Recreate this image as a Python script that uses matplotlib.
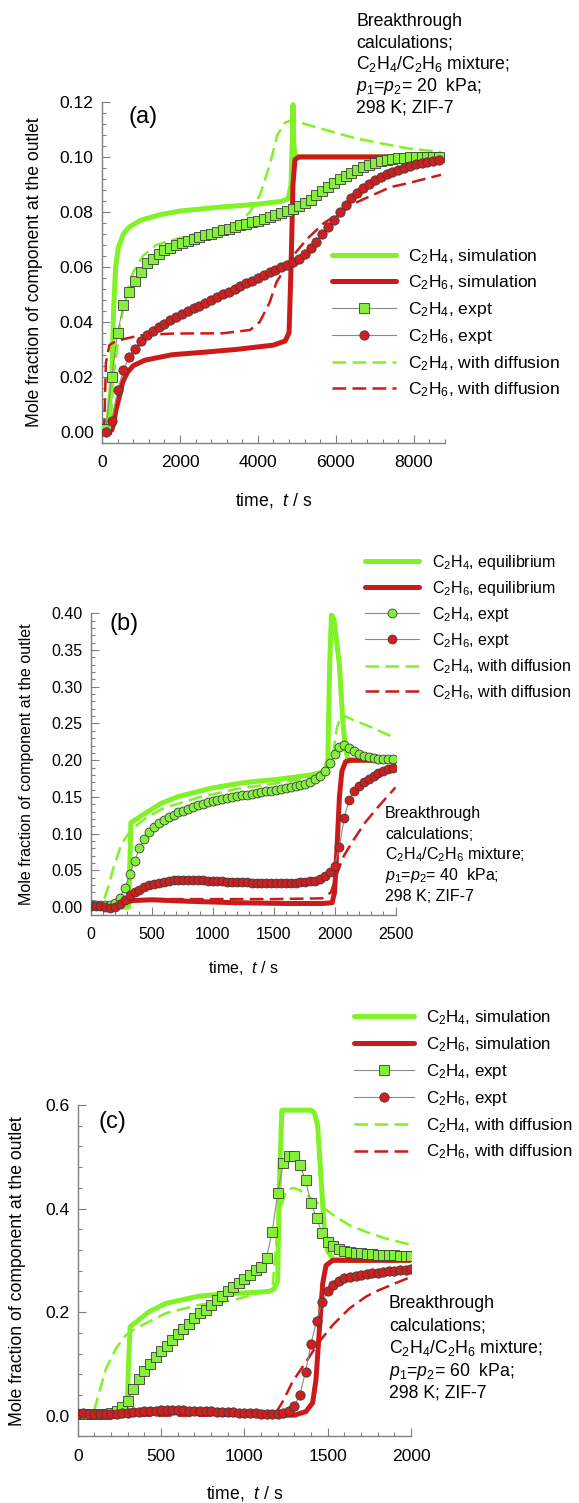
import matplotlib
matplotlib.use("Agg")
import matplotlib.pyplot as plt
from matplotlib.ticker import MultipleLocator, FormatStrFormatter

plt.rcParams["font.family"] = ["Liberation Sans", "DejaVu Sans"]
plt.rcParams["mathtext.fontset"] = "custom"
plt.rcParams["mathtext.rm"] = "Liberation Sans"
plt.rcParams["mathtext.it"] = "Liberation Sans:italic"
plt.rcParams["mathtext.bf"] = "Liberation Sans:bold"

W, H = 579, 1503
GREEN = "#80f226"
RED = "#cc1a1a"
SQ_FILL = "#84f03c"
CI_FILL = "#d21e1e"
EDGE = "#3c3c3c"
AXIS_GREY = "#808080"

C2H4 = r"C$_2$H$_4$"
C2H6 = r"C$_2$H$_6$"

# ---- (a) 20 kPa ----------------------------------------------------------
a_sim_c2h4_t = [0, 150, 250, 300, 350, 420, 550, 700, 1000, 1500, 2000, 3000, 4000, 4600, 4780,
                4850, 4880, 4900, 4920, 4950, 5000, 8700]
a_sim_c2h4_y = [0.0, 0.002, 0.020, 0.045, 0.060, 0.067, 0.072, 0.0745, 0.0770, 0.0790, 0.0803, 0.0817,
                0.0828, 0.0838, 0.0848, 0.090, 0.105, 0.119, 0.105, 0.101, 0.100, 0.100]
a_sim_c2h6_t = [0, 250, 300, 360, 450, 530, 650, 800, 1100, 1800, 2700, 3500, 4400, 4700, 4800,
                4850, 4900, 4950, 5050, 8700]
a_sim_c2h6_y = [0.0, 0.0005, 0.003, 0.008, 0.013, 0.018, 0.0215, 0.024, 0.026, 0.028, 0.029, 0.030,
                0.0315, 0.033, 0.036, 0.060, 0.090, 0.099, 0.100, 0.100]
a_dif_c2h4_t = [0, 150, 230, 300, 450, 620, 800, 1050, 1400, 2250, 3100, 3550, 3800, 4050, 4300,
                4500, 4700, 4900, 5200, 5700, 6500, 7400, 7900, 8700]
a_dif_c2h4_y = [0.0, 0.0, 0.005, 0.020, 0.038, 0.050, 0.058, 0.064, 0.068, 0.0715, 0.074, 0.0765,
                0.080, 0.086, 0.097, 0.108, 0.1125, 0.1135, 0.112, 0.110, 0.1068, 0.1043, 0.1030, 0.1018]
a_dif_c2h6_t = [0, 60, 100, 190, 360, 960, 1800, 3100, 3800, 4050, 4300, 4480, 4900, 5250, 5700,
                6550, 7400, 7900, 8700]
a_dif_c2h6_y = [0.0, 0.003, 0.025, 0.0315, 0.033, 0.035, 0.0357, 0.0358, 0.037, 0.040, 0.047, 0.0545,
                0.064, 0.070, 0.076, 0.0836, 0.089, 0.0906, 0.0935]
a_exp_t = [100, 250, 400, 550, 700, 850, 1000, 1150, 1300, 1450, 1600, 1750, 1900, 2050, 2200,
           2350, 2500, 2650, 2800, 2950, 3100, 3250, 3400, 3550, 3700, 3850, 4000, 4150, 4300,
           4450, 4600, 4750, 4900, 5050, 5200, 5350, 5500, 5650, 5800, 5950, 6100, 6250, 6400,
           6550, 6700, 6850, 7000, 7150, 7300, 7450, 7600, 7750, 7900, 8050, 8200, 8350, 8500, 8650]
a_exp_c2h4 = [0.001, 0.020, 0.036, 0.046, 0.051, 0.055, 0.058, 0.0615, 0.063, 0.0647, 0.066, 0.0668,
              0.0678, 0.0688, 0.0695, 0.0702, 0.0708, 0.0714, 0.0720, 0.0726, 0.0733, 0.0738, 0.0745,
              0.0751, 0.0756, 0.0762, 0.0767, 0.0774, 0.0780, 0.0787, 0.0795, 0.0802, 0.0810, 0.0820,
              0.0832, 0.0845, 0.0860, 0.0876, 0.0890, 0.0905, 0.0918, 0.0930, 0.0942, 0.0952, 0.0962,
              0.0971, 0.0979, 0.0985, 0.0989, 0.0992, 0.0995, 0.0997, 0.0998, 0.0999, 0.1000, 0.1000,
              0.1000, 0.1000]
a_exp_c2h6 = [0.000, 0.004, 0.015, 0.0225, 0.027, 0.030, 0.033, 0.035, 0.0366, 0.0380, 0.0393, 0.0405,
              0.0417, 0.0428, 0.0439, 0.0449, 0.0459, 0.0470, 0.0480, 0.0490, 0.0500, 0.0510, 0.0520,
              0.0530, 0.0540, 0.0550, 0.0560, 0.0570, 0.0580, 0.0590, 0.0598, 0.0607, 0.0616, 0.0628,
              0.0645, 0.0668, 0.0690, 0.0718, 0.0745, 0.0772, 0.0800, 0.0826, 0.0850, 0.0870, 0.0888,
              0.0903, 0.0916, 0.0928, 0.0938, 0.0946, 0.0953, 0.0960, 0.0967, 0.0973, 0.0978, 0.0983,
              0.0987, 0.0990]

# ---- (b) 40 kPa ----------------------------------------------------------
b_sim_c2h4_t = [0, 310, 320, 330, 450, 580, 720, 990, 1260, 1540, 1810, 1920, 1945, 1960, 1975,
                1995, 2040, 2065, 2090, 2110, 2150, 2500]
b_sim_c2h4_y = [0.0, 0.0, 0.050, 0.115, 0.128, 0.1415, 0.1506, 0.162, 0.1696, 0.1741, 0.180, 0.1846,
                0.200, 0.330, 0.398, 0.392, 0.330, 0.260, 0.215, 0.201, 0.200, 0.200]
b_sim_c2h6_t = [0, 150, 250, 350, 500, 800, 1200, 1600, 1900, 1980, 2000, 2020, 2040, 2060, 2090,
                2130, 2500]
b_sim_c2h6_y = [0.001, 0.002, 0.006, 0.009, 0.010, 0.008, 0.006, 0.005, 0.005, 0.006, 0.020, 0.080,
                0.150, 0.185, 0.198, 0.200, 0.200]
b_dif_c2h4_t = [0, 90, 150, 180, 250, 330, 450, 600, 900, 1200, 1500, 1800, 1920, 1980, 2020, 2060,
                2150, 2300, 2500]
b_dif_c2h4_y = [0.0, 0.0, 0.030, 0.050, 0.085, 0.105, 0.121, 0.135, 0.150, 0.161, 0.168, 0.176, 0.182,
                0.200, 0.245, 0.262, 0.255, 0.245, 0.230]
b_dif_c2h6_t = [0, 200, 300, 400, 500, 1000, 1500, 1900, 1970, 2000, 2030, 2070, 2150, 2250, 2350,
                2500]
b_dif_c2h6_y = [0.0, 0.001, 0.006, 0.010, 0.011, 0.011, 0.011, 0.012, 0.020, 0.035, 0.050, 0.068,
                0.090, 0.115, 0.135, 0.163]
b_exp_t = [0, 40, 80, 120, 160, 200, 240, 280, 320, 360, 400, 440, 480, 520, 560, 600, 640, 680,
           720, 760, 800, 840, 880, 920, 960, 1000, 1040, 1080, 1120, 1160, 1200, 1240, 1280, 1320,
           1360, 1400, 1440, 1480, 1520, 1560, 1600, 1640, 1680, 1720, 1760, 1800, 1840, 1880,
           1920, 1960, 2000, 2040, 2080, 2120, 2160, 2200, 2240, 2280, 2320, 2360, 2400, 2440, 2480]
b_exp_c2h4 = [0.003, 0.003, 0.003, 0.003, 0.003, 0.005, 0.013, 0.026, 0.045, 0.063, 0.080, 0.093,
              0.102, 0.109, 0.115, 0.119, 0.123, 0.126, 0.129, 0.131, 0.134, 0.1365, 0.139, 0.141,
              0.143, 0.1443, 0.146, 0.1472, 0.1483, 0.1495, 0.1508, 0.152, 0.1532, 0.1545, 0.1556,
              0.1566, 0.1575, 0.1585, 0.1597, 0.1608, 0.1619, 0.163, 0.1645, 0.1662, 0.168, 0.1705,
              0.1738, 0.178, 0.185, 0.196, 0.208, 0.218, 0.2205, 0.217, 0.212, 0.208, 0.2055, 0.2038,
              0.2028, 0.2021, 0.2016, 0.2012, 0.201]
b_exp_c2h6 = [0.002, 0.002, 0.001, 0.000, -0.001, 0.000, 0.004, 0.010, 0.016, 0.021, 0.024, 0.027,
              0.0295, 0.0315, 0.0333, 0.0348, 0.0358, 0.0366, 0.037, 0.0372, 0.0372, 0.037, 0.0368,
              0.0365, 0.0362, 0.036, 0.0355, 0.035, 0.0347, 0.0344, 0.034, 0.0338, 0.0336, 0.0334,
              0.0333, 0.0332, 0.0331, 0.033, 0.033, 0.033, 0.033, 0.0332, 0.0334, 0.0338, 0.0343,
              0.035, 0.036, 0.038, 0.042, 0.048, 0.056, 0.082, 0.122, 0.146, 0.158, 0.165, 0.171,
              0.175, 0.179, 0.182, 0.185, 0.188, 0.190]

# ---- (c) 60 kPa ----------------------------------------------------------
c_sim_c2h4_t = [0, 295, 305, 315, 430, 530, 730, 930, 1050, 1150, 1180, 1200, 1210, 1225, 1400,
                1420, 1440, 1460, 1480, 1500, 1530, 1600, 2000]
c_sim_c2h4_y = [0.0, 0.0, 0.10, 0.172, 0.201, 0.217, 0.231, 0.236, 0.238, 0.240, 0.245, 0.26, 0.45,
                0.59, 0.59, 0.585, 0.56, 0.46, 0.36, 0.318, 0.303, 0.300, 0.300]
c_sim_c2h6_t = [0, 200, 500, 800, 1100, 1300, 1370, 1410, 1430, 1450, 1470, 1490, 1530, 2000]
c_sim_c2h6_y = [0.0, 0.002, 0.006, 0.004, 0.001, 0.001, 0.008, 0.025, 0.070, 0.165, 0.255, 0.290,
                0.300, 0.300]
c_dif_c2h4_t = [0, 90, 130, 170, 230, 290, 330, 430, 530, 730, 930, 1130, 1170, 1190, 1210, 1250,
                1290, 1330, 1430, 1530, 1630, 1730, 1850, 2000]
c_dif_c2h4_y = [0.0, 0.0, 0.046, 0.091, 0.130, 0.156, 0.165, 0.182, 0.198, 0.214, 0.223, 0.240,
                0.252, 0.330, 0.394, 0.433, 0.440, 0.436, 0.413, 0.388, 0.368, 0.355, 0.342, 0.330]
c_dif_c2h6_t = [0, 1000, 1180, 1230, 1290, 1370, 1450, 1530, 1630, 1730, 1790, 1900, 2000]
c_dif_c2h6_y = [0.0, 0.0, 0.001, 0.027, 0.066, 0.104, 0.143, 0.175, 0.207, 0.230, 0.240, 0.255, 0.268]
c_exp_t = [0, 33, 67, 100, 133, 167, 200, 233, 267, 300, 333, 367, 400, 433, 467, 500, 533, 567,
           600, 633, 667, 700, 733, 767, 800, 833, 867, 900, 933, 967, 1000, 1033, 1067, 1100,
           1133, 1167, 1200, 1233, 1267, 1300, 1333, 1367, 1400, 1433, 1467, 1500, 1533, 1567,
           1600, 1633, 1667, 1700, 1733, 1767, 1800, 1833, 1867, 1900, 1933, 1967, 2000]
c_exp_c2h4 = [0.003, 0.003, 0.003, 0.003, 0.003, 0.004, 0.006, 0.010, 0.016, 0.028, 0.051, 0.070,
              0.087, 0.100, 0.113, 0.124, 0.134, 0.146, 0.158, 0.167, 0.177, 0.188, 0.198, 0.205,
              0.214, 0.223, 0.232, 0.240, 0.248, 0.256, 0.264, 0.272, 0.281, 0.288, 0.305, 0.355,
              0.430, 0.488, 0.502, 0.501, 0.484, 0.455, 0.410, 0.382, 0.352, 0.335, 0.327, 0.321,
              0.318, 0.316, 0.315, 0.314, 0.313, 0.312, 0.311, 0.311, 0.310, 0.310, 0.309, 0.309,
              0.308]
c_exp_c2h6 = [0.004, 0.006, 0.004, 0.003, 0.003, 0.003, 0.004, 0.004, 0.005, 0.006, 0.007, 0.008,
              0.009, 0.010, 0.010, 0.011, 0.011, 0.011, 0.011, 0.011, 0.010, 0.010, 0.010, 0.009,
              0.009, 0.008, 0.008, 0.007, 0.007, 0.006, 0.006, 0.005, 0.005, 0.004, 0.004, 0.004,
              0.004, 0.005, 0.009, 0.019, 0.040, 0.085, 0.138, 0.183, 0.220, 0.240, 0.252, 0.260,
              0.265, 0.268, 0.270, 0.272, 0.274, 0.275, 0.276, 0.277, 0.279, 0.280, 0.281, 0.282,
              0.283]

fig = plt.figure(figsize=(W / 100, H / 100), dpi=100)


def px_axes(left, top, right, bottom):
    return fig.add_axes([left / W, 1 - bottom / H, (right - left) / W, (bottom - top) / H])


def fig_xy(x, y):
    return x / W, 1 - y / H


def style_axes(ax, fs):
    for side in ("top", "right"):
        ax.spines[side].set_visible(False)
    for side in ("left", "bottom"):
        ax.spines[side].set_color(AXIS_GREY)
        ax.spines[side].set_linewidth(1.0)
    ax.tick_params(which="both", direction="in", color=AXIS_GREY, labelcolor="black",
                   labelsize=fs, width=0.8, top=False, right=False)
    ax.tick_params(which="major", length=5.5)
    ax.tick_params(which="minor", length=3)
    ax.tick_params(axis="x", pad=9)
    ax.tick_params(axis="y", pad=6)


def draw_panel(ax, sim4, sim6, exp_t, exp4, exp6, dif4, dif6, sim_word, marker4, ms):
    ax.plot(*sim4, color=GREEN, lw=3.6, zorder=2, solid_capstyle="round",
            label=f"{C2H4}, {sim_word}")
    ax.plot(*sim6, color=RED, lw=3.6, zorder=2, solid_capstyle="round",
            label=f"{C2H6}, {sim_word}")
    ax.plot(exp_t, exp4, color="#8a8a8a", lw=0.8, marker=marker4, ms=ms, mfc=SQ_FILL,
            mec=EDGE, mew=0.6, zorder=4, label=f"{C2H4}, expt")
    ax.plot(exp_t, exp6, color="#8a8a8a", lw=0.8, marker="o", ms=ms, mfc=CI_FILL,
            mec=EDGE, mew=0.6, zorder=4, label=f"{C2H6}, expt")
    ax.plot(*dif4, color=GREEN, lw=1.8, dashes=(5.5, 2.5), zorder=3,
            label=f"{C2H4}, with diffusion")
    ax.plot(*dif6, color=RED, lw=1.8, dashes=(5.5, 2.5), zorder=3,
            label=f"{C2H6}, with diffusion")


def labels(ax, fs, ylab_x, xlab_y):
    ax.set_ylabel("Mole fraction of component at the outlet", fontsize=fs, va="center")
    ax.yaxis.set_label_coords(ylab_x, 0.5)
    ax.set_xlabel(r"time,  $t$ / s", fontsize=fs, va="center")
    ax.xaxis.set_label_coords(0.5, xlab_y)


def legend(ax, x, y, fs, hlen, pad, spacing):
    ax.legend(loc="upper left", bbox_to_anchor=fig_xy(x, y), bbox_transform=fig.transFigure,
              frameon=False, fontsize=fs, handlelength=hlen, handletextpad=pad,
              labelspacing=spacing, borderpad=0, borderaxespad=0, numpoints=1)


def note(x, y0, step, fs, kpa):
    lines = ["Breakthrough", "calculations;", f"{C2H4}/{C2H6} mixture;",
             rf"$p_1$=$p_2$= {kpa}  kPa;", "298 K; ZIF-7"]
    for i, s in enumerate(lines):
        fig.text(*fig_xy(x, y0 + i * step), s, fontsize=fs, ha="left", va="baseline")


# (a)
ax = px_axes(102, 102, 445, 442.6)
draw_panel(ax, (a_sim_c2h4_t, a_sim_c2h4_y), (a_sim_c2h6_t, a_sim_c2h6_y), a_exp_t, a_exp_c2h4,
           a_exp_c2h6, (a_dif_c2h4_t, a_dif_c2h4_y), (a_dif_c2h6_t, a_dif_c2h6_y),
           "simulation", "s", 6.7)
ax.set_xlim(0, 8800)
ax.set_ylim(-0.004, 0.12)
ax.xaxis.set_major_locator(MultipleLocator(2000))
ax.xaxis.set_minor_locator(MultipleLocator(400))
ax.yaxis.set_major_locator(MultipleLocator(0.02))
ax.yaxis.set_minor_locator(MultipleLocator(0.004))
ax.yaxis.set_major_formatter(FormatStrFormatter("%.2f"))
style_axes(ax, 12.6)
labels(ax, 12.7, -0.198, -0.169)
legend(ax, 331.7, 247, 12.6, 3.65, 0.7, 0.45)
ax.text(*fig_xy(143, 117), "(a)", transform=fig.transFigure, fontsize=17, ha="center", va="center")
note(356, 26, 21.7, 12.7, 20)

# (b)
ax = px_axes(90.7, 613.3, 395.5, 914.5)
draw_panel(ax, (b_sim_c2h4_t, b_sim_c2h4_y), (b_sim_c2h6_t, b_sim_c2h6_y), b_exp_t, b_exp_c2h4,
           b_exp_c2h6, (b_dif_c2h4_t, b_dif_c2h4_y), (b_dif_c2h6_t, b_dif_c2h6_y),
           "equilibrium", "o", 6.4)
ax.set_xlim(0, 2500)
ax.set_ylim(-0.01, 0.40)
ax.xaxis.set_major_locator(MultipleLocator(500))
ax.xaxis.set_minor_locator(MultipleLocator(100))
ax.yaxis.set_major_locator(MultipleLocator(0.05))
ax.yaxis.set_minor_locator(MultipleLocator(0.01))
ax.yaxis.set_major_formatter(FormatStrFormatter("%.2f"))
style_axes(ax, 11.5)
labels(ax, 11.5, -0.212, -0.178)
legend(ax, 365, 553, 11.5, 3.4, 0.8, 0.44)
ax.text(*fig_xy(124, 624), "(b)", transform=fig.transFigure, fontsize=17, ha="center", va="center")
note(385, 818, 20.7, 11.5, 40)

# (c)
ax = px_axes(77.7, 1105, 411, 1436.4)
draw_panel(ax, (c_sim_c2h4_t, c_sim_c2h4_y), (c_sim_c2h6_t, c_sim_c2h6_y), c_exp_t, c_exp_c2h4,
           c_exp_c2h6, (c_dif_c2h4_t, c_dif_c2h4_y), (c_dif_c2h6_t, c_dif_c2h6_y),
           "simulation", "s", 6.7)
ax.set_xlim(0, 2000)
ax.set_ylim(-0.04, 0.6)
ax.xaxis.set_major_locator(MultipleLocator(500))
ax.xaxis.set_minor_locator(MultipleLocator(100))
ax.yaxis.set_major_locator(MultipleLocator(0.2))
ax.yaxis.set_minor_locator(MultipleLocator(0.04))
ax.yaxis.set_major_formatter(FormatStrFormatter("%.1f"))
style_axes(ax, 12.6)
labels(ax, 12.7, -0.182, -0.171)
legend(ax, 354, 1008, 12.2, 3.55, 0.7, 0.48)
ax.text(*fig_xy(112, 1122), "(c)", transform=fig.transFigure, fontsize=17, ha="center", va="center")
note(389, 1308, 22.5, 12.7, 60)

fig.savefig("out.png", dpi=100)
